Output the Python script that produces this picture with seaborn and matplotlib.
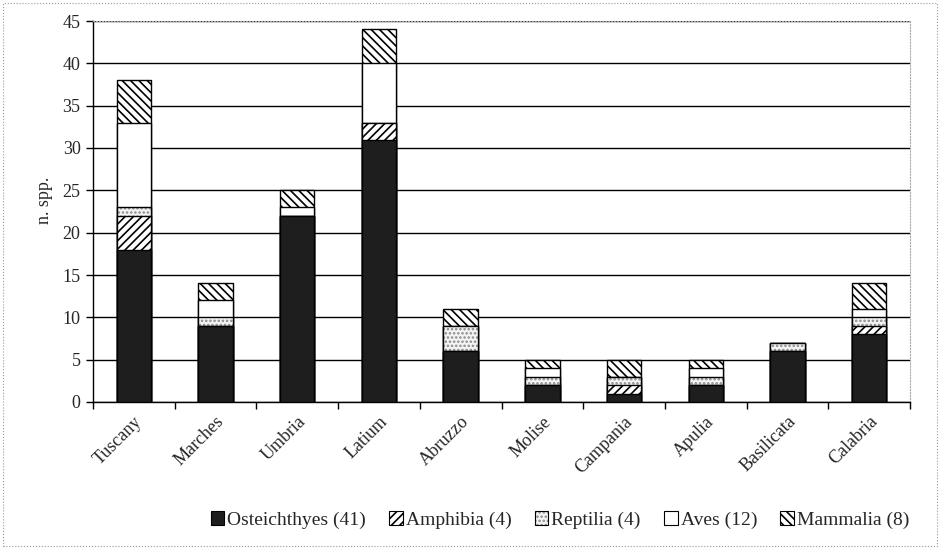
import matplotlib
matplotlib.use("Agg")
import matplotlib.pyplot as plt
import seaborn as sns
import pandas as pd
import numpy as np
from matplotlib.patches import Patch, Rectangle

regions = ["Tuscany", "Marches", "Umbria", "Latium", "Abruzzo", "Molise",
           "Campania", "Apulia", "Basilicata", "Calabria"]
osteichthyes = [18, 9, 22, 31, 6, 2, 1, 2, 6, 8]
amphibia     = [4, 0, 0, 2, 0, 0, 1, 0, 0, 1]
reptilia     = [1, 1, 0, 0, 3, 1, 1, 1, 1, 1]
aves         = [10, 2, 1, 7, 0, 1, 0, 1, 0, 1]
mammalia     = [5, 2, 2, 4, 2, 1, 2, 1, 0, 3]
legend_labels = ["Osteichthyes (41)", "Amphibia (4)", "Reptilia (4)",
                 "Aves (12)", "Mammalia (8)"]
y_ticks = [0, 5, 10, 15, 20, 25, 30, 35, 40, 45]

sns.set_theme(style="white")
plt.rcParams["font.family"] = ["Liberation Serif", "DejaVu Serif"]
plt.rcParams["hatch.linewidth"] = 1.2

series = [osteichthyes, amphibia, reptilia, aves, mammalia]
styles = [
    dict(facecolor="#1e1e1e", hatch=None, hatchcolor="black"),
    dict(facecolor="white", hatch="////", hatchcolor="black"),
    dict(facecolor="#f4f4f4", hatch="....", hatchcolor="#8a8a8a"),
    dict(facecolor="white", hatch=None, hatchcolor="black"),
    dict(facecolor="white", hatch="\\\\\\\\", hatchcolor="black"),
]

cum = np.cumsum(np.array(series, dtype=float), axis=0)

fig = plt.figure(figsize=(9.41, 5.49), dpi=100)
ax = fig.add_axes([93/941, 1 - 402/549, (910-93)/941, (402-21)/549])

def style_patch(p, st):
    p.set_facecolor(st["facecolor"])
    p.set_edgecolor("black")
    p.set_linewidth(1.0)
    if st["hatch"]:
        p.set_hatch(st["hatch"])
        p._hatch_color = matplotlib.colors.to_rgba(st["hatchcolor"])

# draw cumulative totals from top layer down so lower layers overlay
for k in range(len(series) - 1, -1, -1):
    df = pd.DataFrame({"region": regions, "value": cum[k]})
    sns.barplot(data=df, x="region", y="value", ax=ax, width=0.42,
                color=styles[k]["facecolor"], saturation=1, zorder=3 + (5 - k))
    for p in ax.patches[-len(regions):]:
        style_patch(p, styles[k])

ax.set_ylim(0, 45)
ax.set_xlim(-0.5, len(regions) - 0.5)
ax.set_yticks(y_ticks)
ax.set_yticklabels([str(t) for t in y_ticks], fontsize=13)
ax.yaxis.grid(True, color="black", linewidth=1.0, zorder=1)
ax.set_axisbelow(True)

ax.set_xticks(range(len(regions)))
ax.set_xticklabels(regions, rotation=45, ha="right", rotation_mode="anchor", fontsize=13)
ax.set_xticks(np.arange(-0.5, len(regions), 1.0), minor=True)
ax.tick_params(axis="x", which="major", length=0, pad=8)
ax.tick_params(axis="x", which="minor", length=5, width=1, color="black", direction="out", bottom=True)
ax.tick_params(axis="y", length=5, width=1, color="black", direction="out", left=True, pad=4)
ax.set_xlabel("")
ax.set_ylabel("n. spp.", fontsize=13)
ax.yaxis.set_label_coords(-0.049, 0.53)

for s in ["left", "bottom"]:
    ax.spines[s].set_color("black")
    ax.spines[s].set_linewidth(1.0)
for s in ["top", "right"]:
    ax.spines[s].set_color("#aaaaaa")
    ax.spines[s].set_linewidth(0.8)
    ax.spines[s].set_linestyle(":")

handles = []
for k in range(len(series)):
    h = Patch(facecolor=styles[k]["facecolor"], edgecolor="black",
              hatch=styles[k]["hatch"], linewidth=0.8)
    if styles[k]["hatch"]:
        h._hatch_color = matplotlib.colors.to_rgba(styles[k]["hatchcolor"])
    handles.append(h)
fig.legend(handles, legend_labels, loc="center", bbox_to_anchor=(560/941, 1 - 520/549),
           ncol=5, frameon=False, fontsize=14, handlelength=0.7, handleheight=0.7,
           handletextpad=0.15, columnspacing=1.2)

fig.patches.append(Rectangle((3/941, 3/549), 934/941, 543/549, transform=fig.transFigure,
                             fill=False, edgecolor="#999999", linewidth=0.8, linestyle=":"))

fig.savefig("out.png", dpi=100)
